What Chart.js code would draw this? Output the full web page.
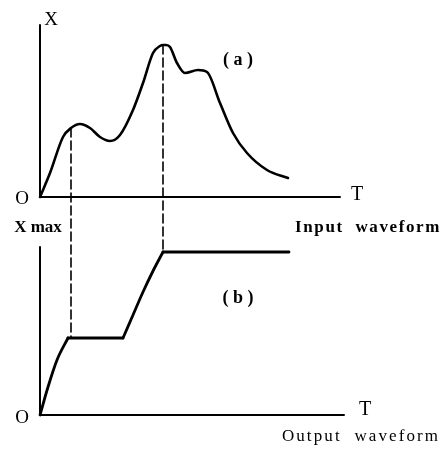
<!DOCTYPE html>
<html>
<head>
<meta charset="utf-8">
<script src="https://cdn.jsdelivr.net/npm/chart.js@4"></script>
<style>
  body { margin: 0; background: #fff; }
  #wrap { width: 444px; height: 450px; }
</style>
</head>
<body>
<div id="wrap"><canvas id="waveChart"></canvas></div>
<script>
// base line levels of the two panels (value on the y scale)
const baseA = 253;
const baseB = 35;

// (a) input waveform: time T and amplitude X above the base line
const inputT = [0, 10, 23, 31, 40, 50, 60, 70, 80, 93, 103, 113, 120, 123, 126, 130, 137, 145, 158, 167, 180, 193, 207, 227, 248];
const inputX = [0, 24, 60, 69, 73, 69, 60, 56, 62, 87, 114, 144, 151, 152, 152, 150, 134, 124, 127, 125, 94, 64, 44, 27, 19];

// (b) output waveform (peak holding), split into its four pieces
const outputT = [0, 8, 17, 28, 83, 93, 103, 113, 123, 249];
const outputX = [0, 28, 55, 77, 77, 100, 123, 144, 163, 163];
const outputPieces = [[0, 3], [3, 4], [4, 8], [8, 9]];

// projection lines: time and top/bottom levels
const dashT = [31, 123];
const dashTop = [baseA + 69, baseA + 152];
const dashBottom = [baseB + 77, baseB + 163];

// axes lengths
const axisA = { len: 300, height: 172 };
const axisB = { len: 304, height: 168 };

// text labels [text, T, value, size, weight, spacing]
const labels = [
  ['X', 11, 430, 19, 'normal', 0],
  ['O', -18, 251, 19, 'normal', 0],
  ['T', 317, 255, 20, 'normal', 0],
  ['( a )', 198, 390, 18, 'bold', 0],
  ['X max', -2, 222, 17, 'bold', 0],
  ['Input  waveform', 328, 222, 17, 'bold', 1.6],
  ['( b )', 198, 152, 18, 'bold', 0],
  ['O', -18, 32, 19, 'normal', 0],
  ['T', 325, 40, 20, 'normal', 0],
  ['Output  waveform', 321, 13, 17, 'normal', 2.1]
];

function toPoints(ts, xs, base, from, to) {
  const pts = [];
  for (let i = from; i <= to; i++) pts.push({ x: ts[i], y: xs[i] + base });
  return pts;
}

const black = '#000';
const datasets = [
  { data: toPoints(inputT, inputX, baseA, 0, inputT.length - 1), borderWidth: 2.6, cubicInterpolationMode: 'monotone' }
];
outputPieces.forEach(p => {
  datasets.push({ data: toPoints(outputT, outputX, baseB, p[0], p[1]), borderWidth: 2.8, cubicInterpolationMode: 'monotone' });
});
// axes
datasets.push({ data: [{ x: 0, y: baseA + axisA.height }, { x: 0, y: baseA }, { x: axisA.len, y: baseA }], borderWidth: 2 });
datasets.push({ data: [{ x: 0, y: baseB + axisB.height }, { x: 0, y: baseB }, { x: axisB.len, y: baseB }], borderWidth: 2 });
dashT.forEach((t, i) => {
  datasets.push({
    data: [{ x: t, y: dashTop[i] }, { x: t, y: dashBottom[i] }],
    borderWidth: 1.6,
    borderDash: [9, 4]
  });
});
datasets.forEach(d => {
  d.borderColor = black;
  d.pointRadius = 0;
  d.fill = false;
  d.showLine = true;
  d.borderCapStyle = 'round';
});

// draws the text labels in data coordinates
const textPlugin = {
  id: 'textLabels',
  afterDraw(chart) {
    const ctx = chart.ctx;
    const xs = chart.scales.x, ys = chart.scales.y;
    ctx.save();
    ctx.fillStyle = black;
    ctx.textBaseline = 'middle';
    ctx.textAlign = 'center';
    labels.forEach(l => {
      ctx.font = l[4] + ' ' + l[3] + 'px "Liberation Serif", "DejaVu Serif", serif';
      ctx.letterSpacing = l[5] + 'px';
      ctx.fillText(l[0], xs.getPixelForValue(l[1]), ys.getPixelForValue(l[2]));
    });
    ctx.restore();
  }
};

new Chart(document.getElementById('waveChart'), {
  type: 'scatter',
  data: { datasets: datasets },
  options: {
    responsive: true,
    maintainAspectRatio: false,
    animation: false,
    layout: { padding: 0 },
    plugins: { legend: { display: false }, tooltip: { enabled: false } },
    scales: {
      x: { type: 'linear', min: -40, max: 404, display: false },
      y: { type: 'linear', min: 0, max: 450, display: false }
    }
  },
  plugins: [textPlugin]
});
</script>
</body>
</html>
